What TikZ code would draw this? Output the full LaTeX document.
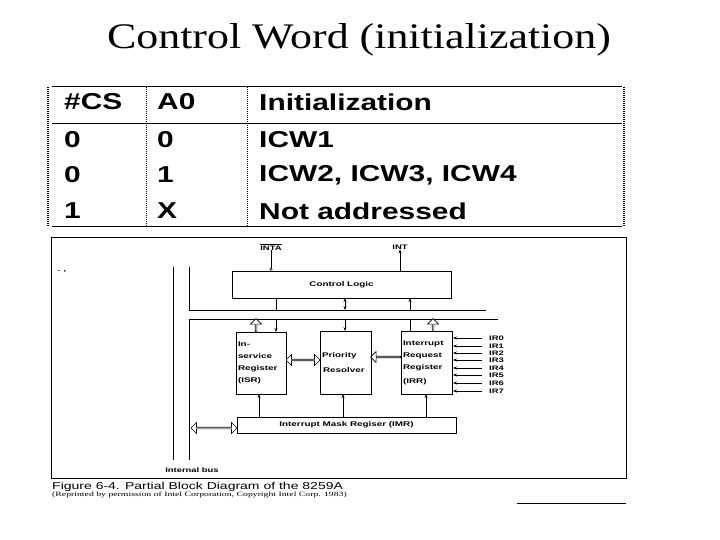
\documentclass[tikz,border=0pt]{standalone}
\usepackage{fontspec}
\setmainfont{Liberation Serif}
\newfontfamily\titlef[FakeStretch=1.22]{Liberation Serif}
\newfontfamily\arialT[FakeStretch=1.3]{Liberation Sans}
\newfontfamily\arialD[FakeStretch=1.45]{Liberation Sans}
\newfontfamily\arialC[FakeStretch=1.4]{Liberation Sans}
\newfontfamily\serifC[FakeStretch=1.5]{Liberation Serif}
\usetikzlibrary{shapes.arrows,arrows.meta}
\begin{document}
\begin{tikzpicture}[x=1pt,y=-1pt,
  tbl/.style={font=\arialT\bfseries\fontsize{23}{25}\selectfont,anchor=west,inner sep=0},
  blk/.style={draw,line width=0.9pt,font=\arialD\bfseries\fontsize{6.8}{12}\selectfont},
  sm/.style={font=\arialD\bfseries\fontsize{6.5}{7}\selectfont,inner sep=0},
  hol/.style={draw,line width=0.6pt,fill=white,inner sep=0,shape border uses incircle,double arrow head extend=2.5pt,single arrow head extend=2.5pt},
  ar/.style={-{Stealth[length=4pt,width=3pt]},line width=0.6pt}]
\useasboundingbox (0,0) rectangle (720,540);
\node[font=\titlef\fontsize{36}{40}\selectfont] (title) at (359,40) {Control Word (initialization)};
% table
\draw[line width=1pt] (52,87) -- (622,87) (52,124) -- (622,124) (52,227) -- (622,227);
\draw[dash pattern=on 1pt off 1pt,line width=1.5pt] (48,87) -- (48,227) (624,87) -- (624,227);
\draw[dash pattern=on 1pt off 1pt,line width=0.8pt] (146,87) -- (146,227) (247,87) -- (247,227);
\node[tbl] (h1) at (64,102) {\#CS}; \node[tbl] (h2) at (157,102) {A0}; \node[tbl] (h3) at (259,102) {Initialization};
\node[tbl] (a1) at (64,140) {0}; \node[tbl] (b1) at (157,140) {0}; \node[tbl] (c1) at (259,140) {ICW1};
\node[tbl] (a2) at (64,175) {0}; \node[tbl] (b2) at (157,175) {1}; \node[tbl] (c2) at (259,175) {ICW2, ICW3, ICW4};
\node[tbl] (a3) at (64,211) {1}; \node[tbl] (b3) at (157,211) {X}; \node[tbl] (c3) at (259,211) {Not addressed};
% figure frame
\draw[line width=1pt] (51,237) rectangle (626,478);
% blocks
\node[blk,minimum width=219pt,minimum height=27pt] (cl) at (341.5,284.5) {Control Logic};
\node[blk,minimum width=50pt,minimum height=62pt,align=left,text width=46pt,inner sep=2pt] (isr) at (261,363) {In-\\service\\Register\\(ISR)};
\node[blk,minimum width=51pt,minimum height=63pt,align=left,text width=47pt,inner sep=2pt] (pr) at (345.5,362.5) {Priority\\[3pt]\hspace*{1pt}Resolver};
\node[blk,minimum width=51pt,minimum height=63pt,align=left,text width=47pt,inner sep=2pt] (irr) at (426.5,362.5) {Interrupt\\Request\\Register\\[2pt](IRR)};
\node[blk,minimum width=219pt,minimum height=16pt] (imr) at (346.5,425) {Interrupt Mask Regiser (IMR)};
% bus
\coordinate (b1t) at (173,267); \coordinate (b1b) at (173,460);
\draw[line width=1pt] (b1t) -- (b1b);
\draw[line width=1pt] (189,267) -- (189,310) -- (486,310);
\draw[line width=1pt] (498,319) -- (189,319) -- (189,460);
\node[sm] (ib) at (192,470) {Internal bus};
% INTA / INT
\node[sm] (inta) at (271,247) {$\overline{\mbox{INTA}}$};
\node[sm] (int) at (400,247) {INT};
\draw[line width=0.6pt] (inta.south) -- (271,268);
\draw[line width=0.5pt,fill=white] (271,269.3) circle (1.3pt);
\draw[ar] (400,271) -- (int.south);
% control lines
\draw[line width=0.6pt] (276,298) -- (276,310);
\draw[ar] (276,319) -- (276,332);
\draw[{Stealth[length=4pt,width=3pt]}-{Stealth[length=4pt,width=3pt]},line width=0.6pt] (345,298) -- (345,310);
\draw[ar] (345,319) -- (345,331);
\draw[ar] (410,310) -- (410,298);
\draw[line width=0.6pt] (410,319) -- (410,331);
% IMR up arrows
\draw[ar] (259,417) -- (259,394);
\draw[ar] (343,417) -- (343,394);
\draw[ar,line width=1pt] (426,417) -- (426,394);
% hollow arrows
\node[hol,double arrow,minimum height=34pt,minimum width=11pt] (d1) at (303,360) {};
\node[hol,double arrow,minimum height=46pt,minimum width=11pt] (d2) at (214,428) {};
\node[hol,single arrow,shape border rotate=180,minimum height=30pt,minimum width=11pt] (d3) at (386,357) {};
\node[hol,single arrow,shape border rotate=90,minimum height=13pt,minimum width=11pt] (d4) at (256,325.5) {};
\node[hol,single arrow,shape border rotate=90,minimum height=13pt,minimum width=11pt] (d5) at (433,325.5) {};
% IR inputs
\foreach \i/\y in {0/338,1/346,2/353,3/360,4/368,5/375,6/383,7/391}{
  \node[sm,anchor=west] (ir\i) at (489,\y) {IR\i};
  \draw[ar] (ir\i.west) ++(-7,0) -- (453,\y);
}
% caption
\node[anchor=west,inner sep=0,font=\arialC\fontsize{10}{10}\selectfont] (cap1) at (52,487) {Figure 6-4. Partial Block Diagram of the 8259A};
\node[anchor=west,inner sep=0,font=\serifC\fontsize{6.5}{6.5}\selectfont] (cap2) at (52,495) {(Reprinted by permission of Intel Corporation, Copyright Intel Corp. 1983)};
\draw[line width=0.6pt] (517,503) -- (626,503);
\node[sm] (dot) at (62,272) {. ,};
\end{tikzpicture}
\end{document}
